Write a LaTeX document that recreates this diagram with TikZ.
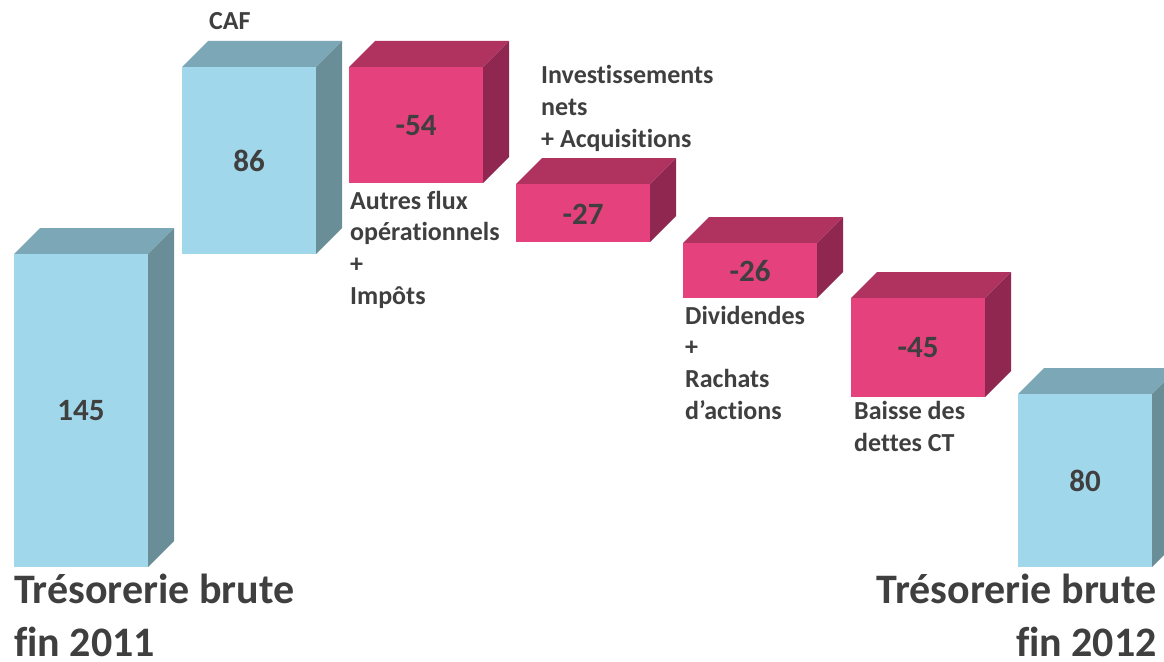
\documentclass[tikz,border=0pt]{standalone}
\usepackage{fontspec}
\setmainfont{Carlito}[Ligatures=NoCommon]
\definecolor{bfront}{HTML}{A0D7EA}
\definecolor{btop}{HTML}{7BA7B6}
\definecolor{bside}{HTML}{6A8E98}
\definecolor{pfront}{HTML}{E5417D}
\definecolor{ptop}{HTML}{B0335F}
\definecolor{pside}{HTML}{8F2750}
\definecolor{txt}{HTML}{3F3F3F}
\newcommand\wcube[6]{%
  \fill[#5] (#1,#2) -- ++(26,-26) -- ++(134,0) -- ++(-26,26) -- cycle;
  \fill[#6] (#1+134,#2) -- ++(26,-26) -- (#1+160,#3-26) -- (#1+134,#3) -- cycle;
  \fill[#4] (#1,#2) rectangle (#1+134,#3);
}
\tikzset{
  num/.style={font=\fontsize{31}{33}\selectfont\bfseries, text=txt, inner sep=0pt},
  lbl/.style={font=\fontsize{26}{31.6}\selectfont\bfseries, text=txt, inner sep=0pt, align=left, anchor=base west},
  big/.style={font=\fontsize{42}{53}\selectfont\bfseries, text=txt, inner sep=0pt}
}
\begin{document}
\begin{tikzpicture}[x=1pt,y=-1pt]
\useasboundingbox (0,0) rectangle (1164,661);
\wcube{14}{254}{567}{bfront}{btop}{bside}
\wcube{182}{67}{254}{bfront}{btop}{bside}
\wcube{349}{67}{183}{pfront}{ptop}{pside}
\wcube{516}{184}{242}{pfront}{ptop}{pside}
\wcube{683}{243}{298}{pfront}{ptop}{pside}
\wcube{851}{298}{397}{pfront}{ptop}{pside}
\wcube{1018}{394}{567}{bfront}{btop}{bside}
\node[num] (v1) at (81,411) {145};
\node[num] (v2) at (249,161) {86};
\node[num] (v3) at (416,126) {-54};
\node[num] (v4) at (583,214) {-27};
\node[num] (v5) at (750,271) {-26};
\node[num] (v6) at (918,348) {-45};
\node[num] (v7) at (1085,481) {80};
\node[lbl] (l2) at (209,30) {CAF};
\node[lbl] (l3) at (350,304) {Autres flux\\opérationnels\\+\\Impôts};
\node[lbl] (l4) at (541,147) {Investissements\\nets\\+ Acquisitions};
\node[lbl] (l5) at (685,419) {Dividendes\\+\\Rachats\\d’actions};
\node[lbl] (l6) at (854,451) {Baisse des\\dettes CT};
\node[big, align=left, anchor=base west] (t1) at (14,656) {Trésorerie brute\\fin 2011};
\node[big, align=right, anchor=base east] (t2) at (1157,656) {Trésorerie brute\\fin 2012};
\end{tikzpicture}
\end{document}
